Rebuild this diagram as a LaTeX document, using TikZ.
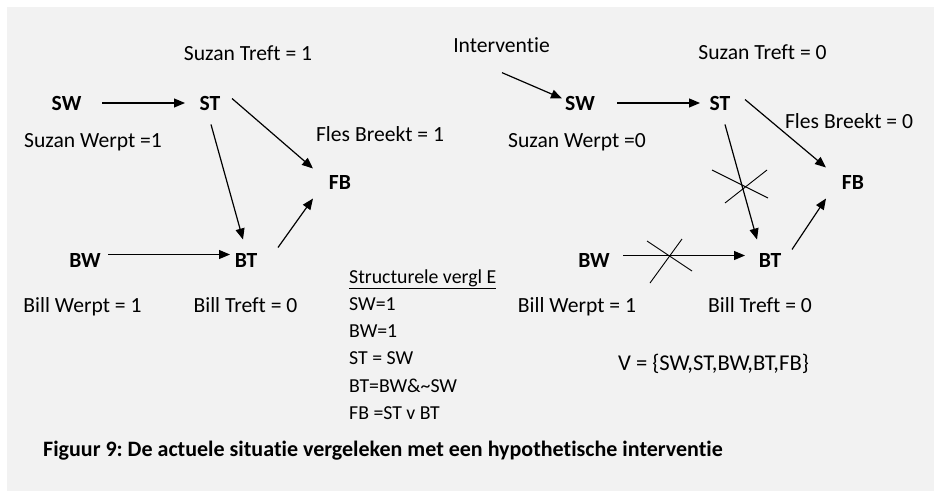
\documentclass[tikz,border=0pt]{standalone}
\usepackage{fontspec}
\setmainfont{Carlito}[RawFeature={-liga;-clig}]
\usetikzlibrary{arrows.meta}
\definecolor{panel}{HTML}{F2F2F2}
\frenchspacing
\tikzset{
  lbl/.style={inner sep=0pt, anchor=base, font=\fontsize{21.6}{25}\selectfont},
  var/.style={inner sep=0pt, anchor=base, font=\fontsize{21.6}{25}\selectfont\bfseries},
  eqn/.style={inner sep=0pt, anchor=base west, font=\fontsize{19.8}{24}\selectfont},
  arr/.style={line width=1.2pt, -{Triangle[length=11pt,width=9pt]}},
  crossline/.style={line width=0.9pt}
}
\begin{document}
\begin{tikzpicture}[x=1pt,y=-1pt]
\useasboundingbox (0,0) rectangle (937,491);
\fill[white] (0,0) rectangle (937,491);
\fill[panel] (7,7) rectangle (934,491);

% ---- left diagram ----
\node[var] (SWa) at (66.5,110) {SW};
\node[var] (STa) at (210,110) {ST};
\node[var] (FBa) at (340,189) {FB};
\node[var] (BWa) at (85,267) {BW};
\node[var] (BTa) at (246,267) {BT};

\node[lbl] (lSTa) at (248,60) {Suzan Treft = 1};
\node[lbl] (lSWa) at (93,147) {Suzan Werpt =1};
\node[lbl] (lFBa) at (380,141) {Fles Breekt = 1};
\node[lbl] (lBWa) at (82.5,312) {Bill Werpt = 1};
\node[lbl] (lBTa) at (245.5,312) {Bill Treft = 0};

\draw[arr] ([shift={(35.5,0)}]SWa.center) -- ([shift={(-25,0)}]STa.center);
\draw[arr] ([shift={(22,-4.5)}]STa.center) -- ([shift={(-27,-13.5)}]FBa.center);
\draw[arr] ([shift={(1,21.5)}]STa.center) -- ([shift={(-3,-20.5)}]BTa.center);
\draw[arr] ([shift={(23,-5.5)}]BWa.center) -- ([shift={(-16,-5.5)}]BTa.center);
\draw[arr] ([shift={(32,-12.5)}]BTa.center) -- ([shift={(-27,16.5)}]FBa.center);

% ---- structural equations ----
\node[eqn] (eq0) at (349,283) {\underline{Structurele vergl E}};
\node[eqn] (eq1) at (349,310) {SW=1};
\node[eqn] (eq2) at (349,337) {BW=1};
\node[eqn] (eq3) at (349,364) {ST = SW};
\node[eqn] (eq4) at (349,392) {BT=BW\&\textasciitilde SW};
\node[eqn] (eq5) at (349,419) {FB =ST v BT};

% ---- right diagram ----
\node[lbl] (int) at (501.5,52) {Interventie};
\node[var] (SWb) at (580,110) {SW};
\node[var] (STb) at (720,110) {ST};
\node[var] (FBb) at (853,189) {FB};
\node[var] (BWb) at (594,267) {BW};
\node[var] (BTb) at (770,267) {BT};

\node[lbl] (lSTb) at (762.5,59) {Suzan Treft = 0};
\node[lbl] (lSWb) at (577,147) {Suzan Werpt =0};
\node[lbl] (lFBb) at (849,128) {Fles Breekt = 0};
\node[lbl] (lBWb) at (577,312) {Bill Werpt = 1};
\node[lbl] (lBTb) at (760,312) {Bill Treft = 0};
\node[lbl, font=\fontsize{22.6}{26}\selectfont] (vset) at (713.5,370) {V = \{SW,ST,BW,BT,FB\}};

\draw[arr] ([shift={(0.5,28)}]int.center) -- ([shift={(-18,-4.5)}]SWb.center);
\draw[arr] ([shift={(37,0)}]SWb.center) -- ([shift={(-20,0)}]STb.center);
\draw[arr] ([shift={(25,-3.5)}]STb.center) -- ([shift={(-27,-14.5)}]FBb.center);
\draw[arr] ([shift={(5,21.5)}]STb.center) -- ([shift={(-13,-20.5)}]BTb.center);
\draw[arr] ([shift={(29,-4.5)}]BWb.center) -- ([shift={(-25,-4.5)}]BTb.center);
\draw[arr] ([shift={(22,-10.5)}]BTb.center) -- ([shift={(-27,16.5)}]FBb.center);

% crosses
\draw[crossline] (712,170) -- (768,198);
\draw[crossline] (725,203) -- (767,170);
\draw[crossline] (647,241) -- (692,271);
\draw[crossline] (650,283) -- (682,239);

% caption
\node[inner sep=0pt, anchor=base west, font=\fontsize{22}{26}\selectfont\bfseries] (cap) at (43,456)
  {Figuur 9: De actuele situatie vergeleken met een hypothetische interventie};
\end{tikzpicture}
\end{document}
